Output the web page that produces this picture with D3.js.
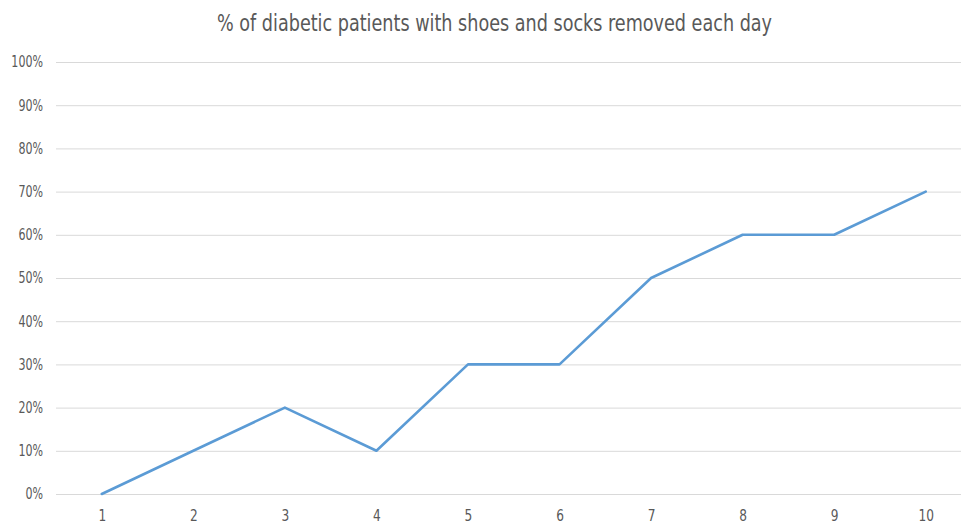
<!DOCTYPE html>
<html><head><meta charset="utf-8">
<script src="https://cdn.jsdelivr.net/npm/d3@7"></script>
<style>
html,body{margin:0;padding:0;background:#fff;overflow:hidden;}
text{font-family:"Liberation Sans Narrow","Arial Narrow","DejaVu Sans Condensed",sans-serif;}
</style></head>
<body><svg id="c" width="961" height="527"></svg>
<script>
const days = ["1","2","3","4","5","6","7","8","9","10"];
const values = [0, 0.10, 0.20, 0.10, 0.30, 0.30, 0.50, 0.60, 0.60, 0.70];
const yTicks = [0,0.1,0.2,0.3,0.4,0.5,0.6,0.7,0.8,0.9,1.0];
const title = "% of diabetic patients with shoes and socks removed each day";

(function(){
const svg = d3.select("#c");
const pL = 56, pR = 971.5, pT = 62, pB = 494;
const x = d3.scalePoint().domain(days).range([pL, pR]).padding(0.5);
const y = d3.scaleLinear().domain([0,1]).range([pB, pT]);
function squeeze(sel, f){ sel.each(function(){ const w=this.getComputedTextLength(); d3.select(this).attr("textLength", w*f).attr("lengthAdjust","spacingAndGlyphs"); }); }

const t = svg.append("text").attr("x", 494.5).attr("y", 31).attr("text-anchor","middle")
  .attr("font-size", 23).attr("fill","#595959").text(title);
t.attr("textLength", 555).attr("lengthAdjust","spacingAndGlyphs");

const ya = svg.append("g").attr("transform",`translate(${pL},0)`)
  .call(d3.axisLeft(y).tickValues(yTicks).tickFormat(d3.format(".0%")).tickSize(-(961-pL)).tickPadding(13));
ya.select(".domain").remove();
ya.selectAll(".tick line").attr("stroke","#d9d9d9").attr("stroke-width",1);
ya.selectAll(".tick text").attr("font-size",15).attr("fill","#595959").call(squeeze, 0.82);

const xa = svg.append("g").attr("transform",`translate(0,${pB})`)
  .call(d3.axisBottom(x).tickSize(0).tickPadding(16));
xa.select(".domain").remove();
xa.selectAll(".tick text").attr("font-size",15).attr("fill","#595959").call(squeeze, 0.9);

svg.append("path").datum(values.map((v,i)=>[days[i],v]))
  .attr("fill","none").attr("stroke","#5B9BD5").attr("stroke-width",2.6)
  .attr("stroke-linejoin","round").attr("stroke-linecap","round")
  .attr("d", d3.line().x(d=>x(d[0])).y(d=>y(d[1])));
})();
</script></body></html>
